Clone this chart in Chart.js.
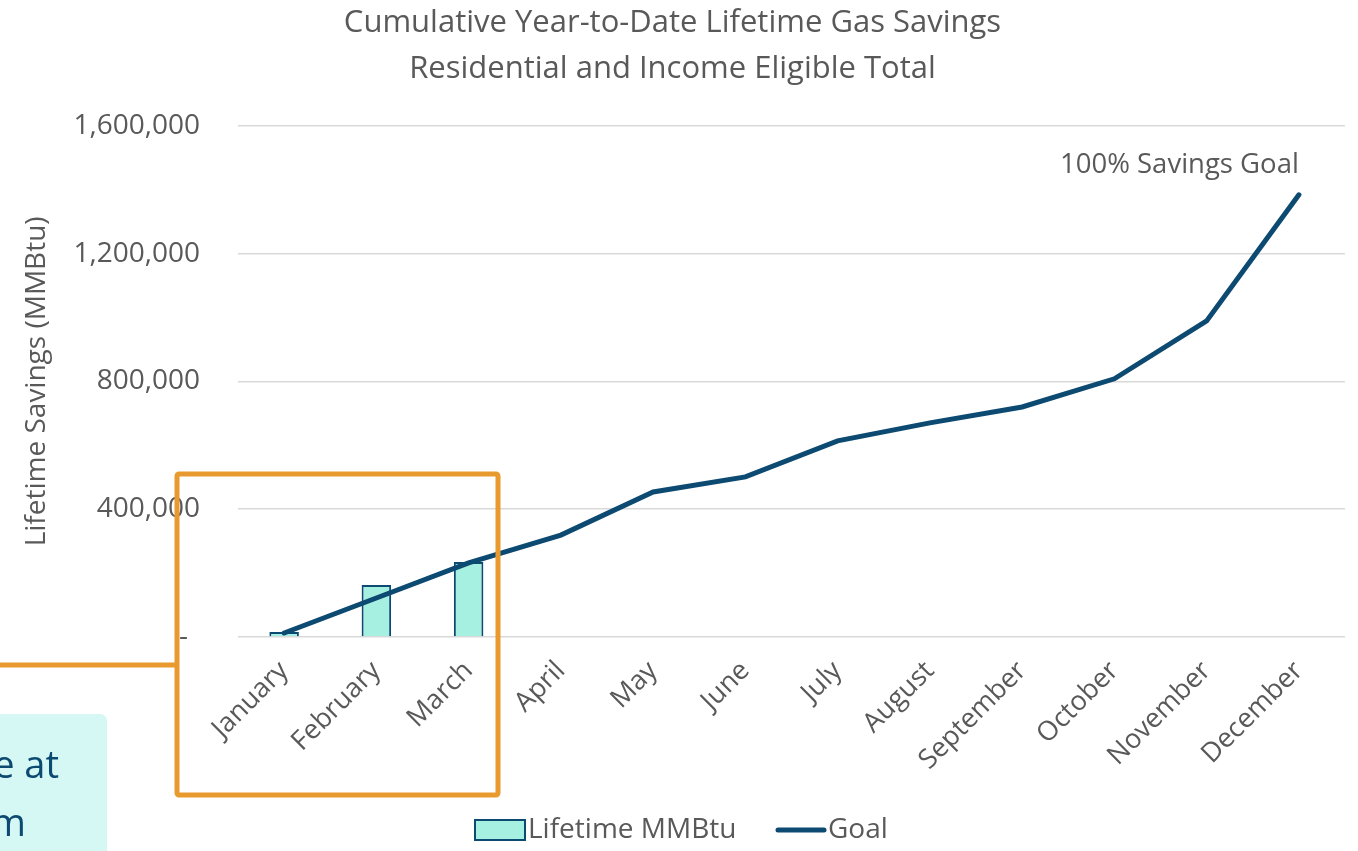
<!DOCTYPE html>
<html>
<head>
<meta charset="utf-8">
<script src="https://cdn.jsdelivr.net/npm/chart.js@4/dist/chart.umd.min.js"></script>
<style>
  html, body { margin: 0; padding: 0; background: #fff; }
  #wrap { width: 1358px; height: 851px; position: relative; }
</style>
</head>
<body>
<div id="wrap"><canvas id="chart"></canvas></div>
<script>
// chart data
const months = ["January", "February", "March", "April", "May", "June",
  "July", "August", "September", "October", "November", "December"];
const lifetimeMMBtu = [15600, 163000, 235000, null, null, null, null, null, null, null, null, null];
const goal = [12500, 122000, 232000, 319000, 454000, 501000, 614000, 670000, 720000, 808000, 989000, 1384000];
const yTicks = [0, 400000, 800000, 1200000, 1600000];

const FONT = "'Open Sans', 'DejaVu Sans', sans-serif";
const GREY = "#595959";
const NAVY = "#0d4a72";
const MINT = "#a6f0e1";
const ORANGE = "#e99a2f";

// slide decorations, legend and the goal label
const overlay = {
  id: "overlay",
  afterDraw(chart) {
    const ctx = chart.ctx;
    const ds = chart.data.datasets;
    ctx.save();

    // legend (Excel style: tight gap between key and text)
    ctx.font = "28px " + FONT;
    ctx.textBaseline = "middle";
    ctx.textAlign = "left";
    const ly = 830;
    ctx.fillStyle = MINT;
    ctx.strokeStyle = NAVY;
    ctx.lineWidth = 2;
    ctx.fillRect(475, ly - 10, 50, 20);
    ctx.strokeRect(475, ly - 10, 50, 20);
    ctx.fillStyle = GREY;
    ctx.fillText(ds[0].label, 528, ly);
    ctx.strokeStyle = NAVY;
    ctx.lineWidth = 5;
    ctx.lineCap = "round";
    ctx.beginPath();
    ctx.moveTo(778, ly);
    ctx.lineTo(824, ly);
    ctx.stroke();
    ctx.fillText(ds[1].label, 828, ly);
    ctx.lineCap = "butt";

    // cropped callout box at bottom-left
    ctx.fillStyle = "#d5f8f5";
    ctx.beginPath();
    ctx.roundRect(-10, 714, 117, 160, 7);
    ctx.fill();
    ctx.fillStyle = NAVY;
    ctx.font = "38px " + FONT;
    ctx.textAlign = "right";
    ctx.textBaseline = "alphabetic";
    ctx.fillText("e at", 59, 778);
    ctx.fillText("m", 26, 836);

    // highlight frame and connector
    ctx.strokeStyle = ORANGE;
    ctx.lineWidth = 5;
    ctx.beginPath();
    ctx.moveTo(0, 665);
    ctx.lineTo(177, 665);
    ctx.stroke();
    ctx.beginPath();
    ctx.roundRect(177, 474, 321, 321, 2);
    ctx.stroke();

    // "100% Savings Goal" above last goal point
    const meta = chart.getDatasetMeta(1);
    const last = meta.data[meta.data.length - 1];
    ctx.fillStyle = GREY;
    ctx.font = "27.5px " + FONT;
    ctx.textAlign = "right";
    ctx.textBaseline = "middle";
    ctx.fillText("100% Savings Goal", last.x, last.y - 30);
    ctx.restore();
  }
};

const ctx = document.getElementById("chart").getContext("2d");
const chart = new Chart(ctx, {
  type: "bar",
  data: {
    labels: months,
    datasets: [{
      type: "bar",
      label: "Lifetime MMBtu",
      data: lifetimeMMBtu,
      backgroundColor: MINT,
      borderColor: NAVY,
      borderWidth: 2,
      categoryPercentage: 1,
      barPercentage: 0.32,
      order: 1
    }, {
      type: "line",
      label: "Goal",
      data: goal,
      borderColor: NAVY,
      backgroundColor: NAVY,
      borderWidth: 5,
      borderCapStyle: "round",
      pointRadius: 0,
      tension: 0,
      order: 0
    }]
  },
  options: {
    responsive: true,
    maintainAspectRatio: false,
    animation: false,
    layout: { padding: { left: 0, right: 13, top: 0, bottom: 0 } },
    plugins: {
      title: {
        display: true,
        text: ["Cumulative Year-to-Date Lifetime Gas Savings", "Residential and Income Eligible Total"],
        color: GREY,
        font: { family: FONT, size: 31, weight: "normal", lineHeight: 1.48 },
        padding: { top: 0, bottom: 34 }
      },
      legend: { display: false },
      tooltip: { enabled: false }
    },
    scales: {
      x: {
        grid: { display: false },
        border: { display: false },
        ticks: {
          color: GREY,
          font: { family: FONT, size: 27 },
          maxRotation: 45,
          minRotation: 45,
          autoSkip: false,
          padding: 10
        },
        afterFit(scale) { scale.height = 214; }
      },
      y: {
        min: 0,
        max: 1600000,
        afterBuildTicks(scale) { scale.ticks = yTicks.map(v => ({ value: v })); },
        grid: { color: "#d9d9d9", lineWidth: 1.5, drawTicks: false },
        border: { display: false },
        ticks: {
          color: GREY,
          font: { family: FONT, size: 28 },
          padding: 38,
          callback: v => v === 0 ? "- \u2009" : v.toLocaleString("en-US")
        },
        title: {
          display: true,
          text: "Lifetime Savings (MMBtu)",
          color: GREY,
          font: { family: FONT, size: 28 },
          padding: { top: 20, bottom: 0 }
        },
        afterFit(scale) { scale.width = 238; }
      }
    }
  },
  plugins: [overlay]
});
</script>
</body>
</html>
